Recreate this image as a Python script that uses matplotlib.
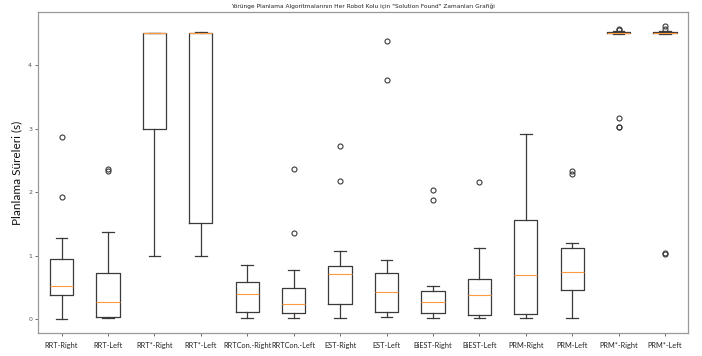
import matplotlib
matplotlib.use("Agg")
import matplotlib.pyplot as plt

labels = ["RRT-Right", "RRT-Left", "RRT*-Right", "RRT*-Left", "RRTCon.-Right", "RRTCon.-Left",
          "EST-Right", "EST-Left", "BiEST-Right", "BiEST-Left", "PRM-Right", "PRM-Left",
          "PRM*-Right", "PRM*-Left"]
whislo = [0.01, 0.015, 1.0, 1.0, 0.015, 0.015, 0.015, 0.03, 0.015, 0.015, 0.015, 0.015, 4.49, 4.49]
q1 = [0.388, 0.04, 3.0, 1.517, 0.115, 0.104, 0.246, 0.115, 0.104, 0.068, 0.083, 0.466, 4.50, 4.50]
med = [0.53, 0.277, 4.50, 4.50, 0.393, 0.241, 0.708, 0.435, 0.267, 0.378, 0.698, 0.745, 4.51, 4.51]
q3 = [0.945, 0.724, 4.505, 4.505, 0.582, 0.493, 0.844, 0.724, 0.45, 0.64, 1.564, 1.118, 4.52, 4.52]
whishi = [1.276, 1.38, 4.51, 4.52, 0.855, 0.78, 1.08, 0.934, 0.52, 1.118, 2.923, 1.20, 4.53, 4.53]
fliers = [[2.87, 1.93], [2.33, 2.36], [], [], [], [2.37, 1.354], [2.72, 2.17], [4.38, 3.76],
          [2.03, 1.88], [2.157], [], [2.34, 2.28], [4.56, 4.55, 3.165, 3.02, 3.03],
          [4.62, 4.57, 1.02, 1.04]]

stats = []
for i in range(len(labels)):
    stats.append(dict(label=labels[i], whislo=whislo[i], q1=q1[i], med=med[i], q3=q3[i],
                      whishi=whishi[i], fliers=fliers[i]))

fig = plt.figure(figsize=(7.02, 3.56), dpi=100)
ax = fig.add_axes([38.3 / 702, 1 - 333.3 / 356, 650 / 702, (333.3 - 11.7) / 356])

lw = 0.9
ax.bxp(stats, widths=0.5,
       boxprops=dict(color="#3a3a3a", linewidth=lw),
       whiskerprops=dict(color="#3a3a3a", linewidth=lw),
       capprops=dict(color="#3a3a3a", linewidth=lw),
       medianprops=dict(color="#ff9a40", linewidth=0.8),
       flierprops=dict(marker="o", markerfacecolor="none", markeredgecolor="#3a3a3a",
                       markersize=3.6, markeredgewidth=0.8))

ax.set_xlim(0.5, 14.5)
ax.set_ylim(-0.22, 4.84)
ax.set_yticks([0, 1, 2, 3, 4])
ax.tick_params(axis="y", labelsize=4.5, length=2.5, width=0.6, colors="#555555", pad=2)
ax.tick_params(axis="x", length=2.5, width=0.6, colors="#555555", pad=3.5)
for lab in ax.get_xticklabels():
    lab.set_fontfamily("Lato")
    lab.set_fontsize(5.3)
    lab.set_color("#222222")
for s in ax.spines.values():
    s.set_color("#999999")
    s.set_linewidth(0.9)

ax.set_ylabel("Planlama Süreleri (s)", fontfamily="Lato", fontsize=8.5, color="#111111", labelpad=4)
ax.set_title('Yörünge Planlama Algoritmalarının Her Robot Kolu için "Solution Found" Zamanları Grafiği',
             fontsize=4.2, color="#222222", pad=3)

fig.savefig("out.png", dpi=100)
